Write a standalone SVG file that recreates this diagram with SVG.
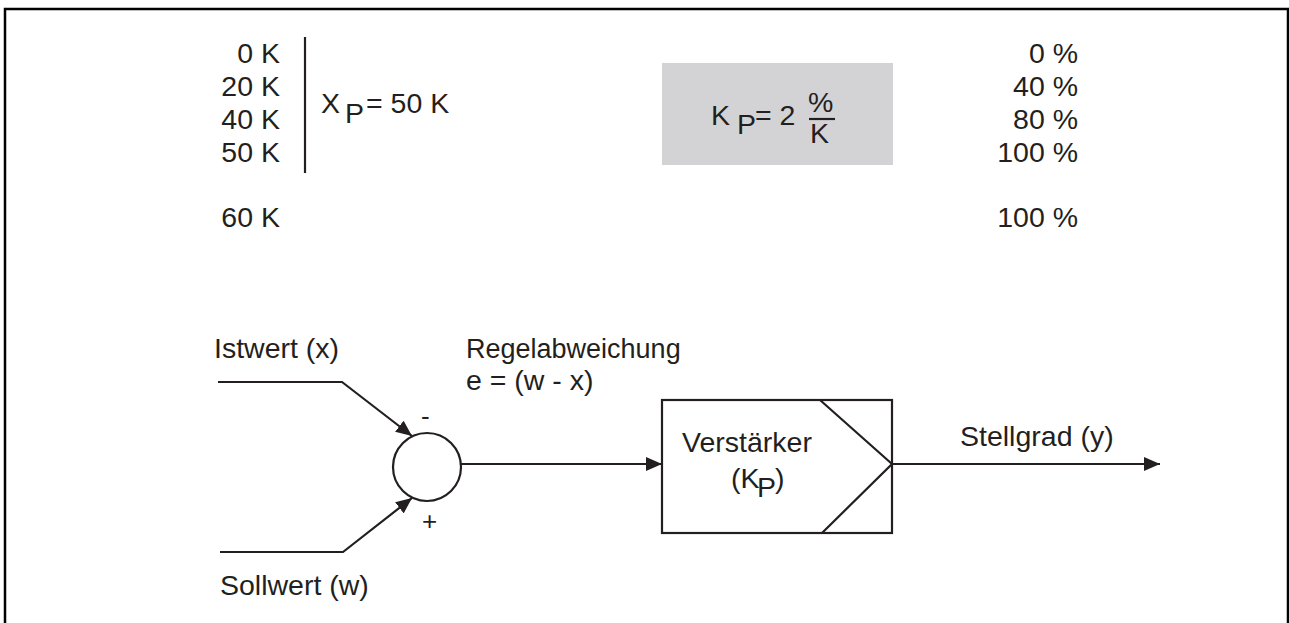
<svg xmlns="http://www.w3.org/2000/svg" width="1289" height="623" viewBox="0 0 1289 623">
<style>
text{font-family:"Liberation Sans",Arial,sans-serif;font-size:28.5px;fill:#231f20}
.r{text-anchor:end}
.ln{stroke:#231f20;stroke-width:2.2;fill:none}
.sg{font-size:27px}
</style>
<defs>
<marker id="ah" viewBox="0 0 16 14" refX="16" refY="7" markerWidth="16" markerHeight="14" markerUnits="userSpaceOnUse" orient="auto"><path d="M0,0 L16,7 L0,14 Z" fill="#231f20"/></marker>
</defs>
<rect width="1289" height="623" fill="#fff"/>
<path d="M5,630 V9 H1288 V630" stroke="#000" stroke-width="2.5" fill="none"/>
<g id="table-left">
<text class="r" x="280" y="63">0 K</text>
<text class="r" x="280" y="96">20 K</text>
<text class="r" x="280" y="129">40 K</text>
<text class="r" x="280" y="162">50 K</text>
<text class="r" x="280" y="227">60 K</text>
<line class="ln" x1="305" y1="37" x2="305" y2="173"/>
<text x="321" y="113">X<tspan x="345" y="123">P</tspan><tspan x="366" y="113">= 50 K</tspan></text>
</g>
<g id="kp-box">
<rect x="662" y="63" width="231" height="102" fill="#d3d3d5"/>
<text x="711" y="125">K<tspan x="737" y="134">P</tspan><tspan x="755" y="125">= 2</tspan></text>
<text x="808" y="112">%</text>
<line class="ln" x1="809" y1="119" x2="835" y2="119"/>
<text x="810" y="143">K</text>
</g>
<g id="table-right">
<text class="r" x="1078" y="63">0 %</text>
<text class="r" x="1078" y="96">40 %</text>
<text class="r" x="1078" y="129">80 %</text>
<text class="r" x="1078" y="162">100 %</text>
<text class="r" x="1078" y="227">100 %</text>
</g>
<g id="summing-junction">
<circle class="ln" cx="427" cy="467" r="34"/>
<text x="421" y="425" style="font-size:26px">-</text>
<text x="422" y="530" style="font-size:26px">+</text>
</g>
<g id="amplifier">
<rect class="ln" x="662" y="400" width="230" height="133"/>
<polyline class="ln" points="820,400 892,464 822,533"/>
<text x="682" y="452">Verstärker</text>
<text x="731" y="488">(K<tspan x="757" y="497">P</tspan><tspan x="775" y="488">)</tspan></text>
</g>
<g id="labels">
<text x="214" y="358">Istwert (x)</text>
<text x="220" y="595">Sollwert (w)</text>
<text x="466" y="358" class="sg">Regelabweichung</text>
<text x="466" y="390">e = (w - x)</text>
<text x="960" y="446">Stellgrad (y)</text>
</g>
<g id="connectors">
<polyline class="ln" points="218,382 342,382 412,436" marker-end="url(#ah)"/>
<polyline class="ln" points="220,552 343,552 412,498" marker-end="url(#ah)"/>
<line class="ln" x1="461" y1="464" x2="662" y2="464" marker-end="url(#ah)"/>
<line class="ln" x1="892" y1="464" x2="1160" y2="464" marker-end="url(#ah)"/>
</g>
</svg>
